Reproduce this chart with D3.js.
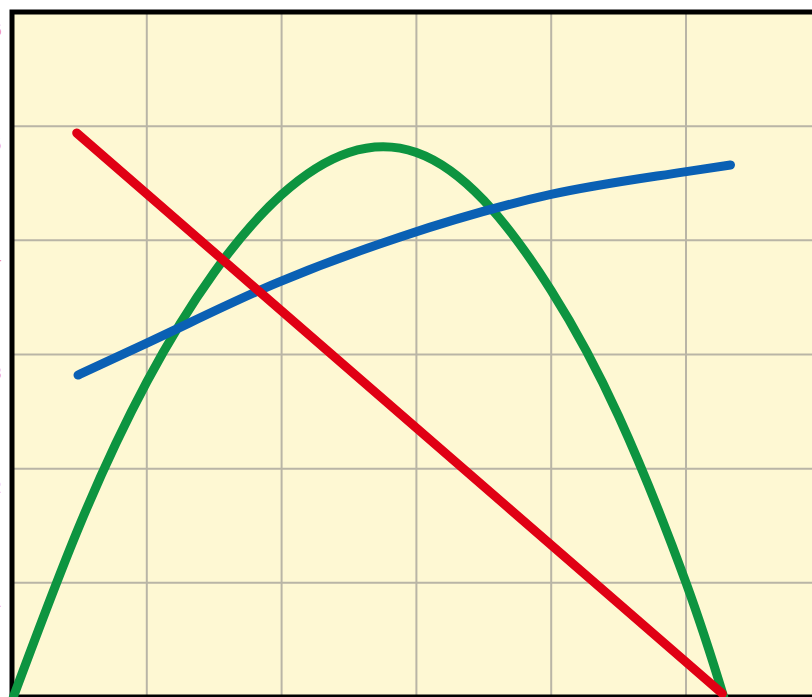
<!DOCTYPE html>
<html lang="en">
<head>
  <meta charset="utf-8">
  <title>Curves</title>
  <script src="https://d3js.org/d3.v7.min.js"></script>
  <style>
    html, body { margin: 0; padding: 0; background: #fff; overflow: hidden; }
    .grid line { stroke: #b9b5a6; stroke-width: 2; }
    .curve { fill: none; stroke-width: 9; stroke-linecap: round; stroke-linejoin: round; }
    .ylab { font: 16px "DejaVu Sans", sans-serif; fill: #f08c9a; text-anchor: end; }
  </style>
</head>
<body>
  <div id="chart"></div>
  <script>
    "use strict";

    // grid / tick values
    var xTicks = [0, 1, 2, 3, 4, 5, 6];
    var yTicks = [0, 1, 2, 3, 4, 5, 6];
    var yLabels = ["0", "1", "2", "3", "4", "5", "6"];

    // green (parabola-like) series
    var greenX = [0.01, 0.5, 1, 1.5, 2, 2.5, 3, 3.5, 4, 4.5, 5, 5.28];
    var greenY = [0, 1.5, 2.76, 3.72, 4.4, 4.77, 4.77, 4.35, 3.56, 2.46, 1.0, 0];

    // red straight line
    var redX = [0.48, 5.27];
    var redY = [4.94, 0.03];

    // blue rising curve
    var blueX = [0.49, 1.0, 1.97, 2.88, 3.99, 4.99, 5.33];
    var blueY = [2.82, 3.10, 3.63, 4.03, 4.40, 4.60, 4.66];

    var W = 812, H = 697;
    var padLeft = 12, padTop = 12, cell = 134.8;

    var x = d3.scaleLinear().domain([0, 6]).range([padLeft, padLeft + 6 * cell]);
    var y = d3.scaleLinear().domain([0, 6]).range([H, padTop]);

    var svg = d3.select("#chart").append("svg")
      .attr("width", W).attr("height", H);

    // plot background
    svg.append("rect")
      .attr("x", x(0)).attr("y", y(6))
      .attr("width", x(6) - x(0)).attr("height", y(0) - y(6))
      .attr("fill", "#fef8d3");

    var grid = svg.append("g").attr("class", "grid");
    grid.selectAll(".vx").data(xTicks.slice(1, -1)).enter().append("line")
      .attr("x1", d => x(d)).attr("x2", d => x(d))
      .attr("y1", y(6)).attr("y2", y(0));
    grid.selectAll(".hy").data(yTicks.slice(1, -1)).enter().append("line")
      .attr("y1", d => y(d)).attr("y2", d => y(d))
      .attr("x1", x(0)).attr("x2", x(6));

    // frame
    svg.append("rect")
      .attr("x", x(0)).attr("y", y(6))
      .attr("width", x(6) - x(0)).attr("height", y(0) - y(6))
      .attr("fill", "none").attr("stroke", "#000").attr("stroke-width", 5);

    // red tick labels, cut off by the left edge as in the source
    svg.selectAll(".ylab").data(yTicks.slice(1)).enter().append("text")
      .attr("class", "ylab")
      .attr("x", 2)
      .attr("y", d => y(d) + 24)
      .text((d, i) => yLabels[i + 1]);

    function pts(xs, ys) { return xs.map((v, i) => [v, ys[i]]); }

    var natural = d3.line().x(d => x(d[0])).y(d => y(d[1])).curve(d3.curveNatural);
    var smooth = d3.line().x(d => x(d[0])).y(d => y(d[1])).curve(d3.curveMonotoneX);
    var straight = d3.line().x(d => x(d[0])).y(d => y(d[1]));

    svg.append("path").attr("class", "curve")
      .attr("stroke", "#0d9440")
      .attr("d", natural(pts(greenX, greenY)));

    svg.append("path").attr("class", "curve")
      .attr("stroke", "#0a60b4")
      .attr("d", smooth(pts(blueX, blueY)));

    svg.append("path").attr("class", "curve")
      .attr("stroke", "#e00014")
      .attr("d", straight(pts(redX, redY)));
  </script>
</body>
</html>
